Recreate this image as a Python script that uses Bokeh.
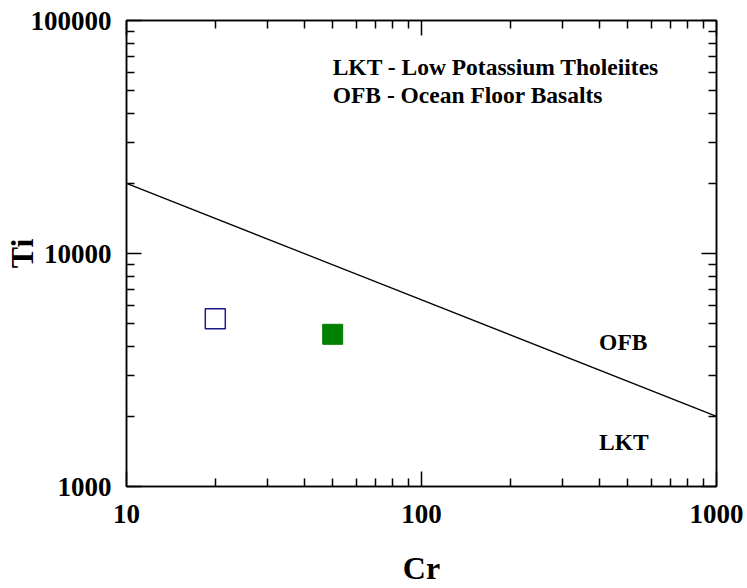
from bokeh.plotting import figure
from bokeh.models import LogAxis, Label, FixedTicker, CustomJSTickFormatter
from bokeh.embed import file_html
from bokeh.resources import INLINE

# Data
boundary_cr = [10, 1000]
boundary_ti = [20000, 2000]
sample1_cr = [20]
sample1_ti = [5250]
sample2_cr = [50]
sample2_ti = [4500]
x_ticks = [10, 100, 1000]
y_ticks = [1000, 10000, 100000]
x_minor = [m * 10 ** e for e in (1, 2) for m in range(2, 10)]
y_minor = [m * 10 ** e for e in (3, 4) for m in range(2, 10)]

FONT = "Liberation Serif"

p = figure(width=747, height=588, x_axis_type="log", y_axis_type="log",
           x_range=(10, 1000), y_range=(1000, 100000),
           output_backend="svg", toolbar_location=None,
           min_border_left=126, min_border_right=31,
           min_border_top=20, min_border_bottom=101)
p.xgrid.visible = False
p.ygrid.visible = False
p.outline_line_color = "black"
p.outline_line_width = 1.5
p.background_fill_color = "white"
p.border_fill_color = "white"

def style_axis(ax, show_labels, ticks, minor):
    ax.ticker = FixedTicker(ticks=ticks, minor_ticks=minor)
    ax.formatter = CustomJSTickFormatter(code="return tick.toFixed(0);")
    ax.axis_line_color = "black"
    ax.axis_line_width = 1.5
    ax.major_tick_in = 15
    ax.major_tick_out = 0
    ax.minor_tick_in = 8
    ax.minor_tick_out = 0
    ax.major_tick_line_width = 1.5
    ax.minor_tick_line_width = 1.5
    ax.major_tick_line_color = "black"
    ax.minor_tick_line_color = "black"
    ax.major_label_text_font = FONT
    ax.major_label_text_font_style = "bold"
    ax.major_label_text_font_size = "27px"
    ax.major_label_text_color = "black"
    ax.axis_label_text_font = FONT
    ax.axis_label_text_font_style = "bold"
    ax.axis_label_text_font_size = "32px"
    ax.axis_label_text_color = "black"
    if not show_labels:
        ax.major_label_text_font_size = "0px"
        ax.major_label_text_alpha = 0

xa = p.xaxis[0]
ya = p.yaxis[0]
style_axis(xa, True, x_ticks, x_minor)
style_axis(ya, True, y_ticks, y_minor)
xa.axis_label = "Cr"
ya.axis_label = "Ti"
xa.major_label_standoff = 18
ya.major_label_standoff = 15
xa.axis_label_standoff = 24
ya.axis_label_standoff = -12

top = LogAxis()
right = LogAxis()
style_axis(top, False, x_ticks, x_minor)
style_axis(right, False, y_ticks, y_minor)
p.add_layout(top, "above")
p.add_layout(right, "right")

p.line(boundary_cr, boundary_ti, line_color="black", line_width=1.3)
p.scatter(sample1_cr, sample1_ti, marker="square", size=20,
          fill_color="white", fill_alpha=0, line_color="#1a1a8c", line_width=1.5)
p.scatter(sample2_cr, sample2_ti, marker="square", size=20,
          fill_color="#008000", line_color="#008000", line_width=1)

def add_text(x, y, t):
    p.add_layout(Label(x=x, y=y, text=t, text_font=FONT, text_font_style="bold",
                       text_font_size="23.5px", text_color="black",
                       text_baseline="alphabetic", text_align="left"))

add_text(50, 63000, "LKT - Low Potassium Tholeiites")
add_text(50, 47700, "OFB - Ocean Floor Basalts")
add_text(400, 4180, "OFB")
add_text(400, 1550, "LKT")

open("out.html", "w").write(file_html(p, INLINE))
